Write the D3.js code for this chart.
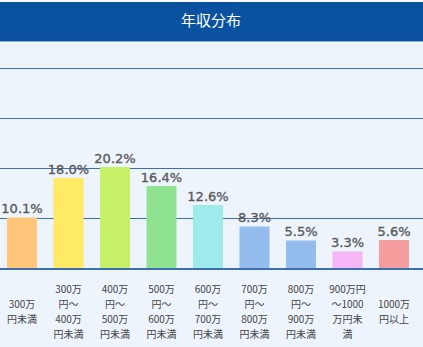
<!DOCTYPE html>
<html>
<head>
<meta charset="utf-8">
<script src="https://cdn.jsdelivr.net/npm/d3@7"></script>
<style>
  html, body { margin: 0; padding: 0; background: #ffffff; }
  svg { display: block; }
</style>
</head>
<body>
<svg id="chart" width="423" height="347"></svg>
<script>
// 年収分布 — share of respondents by annual income band (%)
const title = "年収分布";
const categories = [
  "300万円未満",
  "300万円～400万円未満",
  "400万円～500万円未満",
  "500万円～600万円未満",
  "600万円～700万円未満",
  "700万円～800万円未満",
  "800万円～900万円未満",
  "900万円～1000万円未満",
  "1000万円以上"
];
const tickLines = [
  ["300万", "円未満"],
  ["300万", "円～", "400万", "円未満"],
  ["400万", "円～", "500万", "円未満"],
  ["500万", "円～", "600万", "円未満"],
  ["600万", "円～", "700万", "円未満"],
  ["700万", "円～", "800万", "円未満"],
  ["800万", "円～", "900万", "円未満"],
  ["900万円", "～1000", "万円未", "満"],
  ["1000万", "円以上"]
];
const values = [10.1, 18.0, 20.2, 16.4, 12.6, 8.3, 5.5, 3.3, 5.6];
const colors = ["#FFC67A", "#FFEA66", "#C6F068", "#8FE390", "#9FEBEB", "#94BCEC", "#94BCEC", "#F6B6F6", "#F69D9D"];
const gridTicks = [10, 20, 30, 40];

const W = 423, H = 347;
const svg = d3.select("#chart");

// page background and header band
svg.append("rect").attr("x", 0).attr("y", 0).attr("width", W).attr("height", H).attr("fill", "#EDF4FC");
svg.append("rect").attr("x", 0).attr("y", 0).attr("width", W).attr("height", 2).attr("fill", "#ffffff");
svg.append("rect").attr("x", 0).attr("y", 2).attr("width", W).attr("height", 39.7).attr("fill", "#0A52A0");
svg.append("rect").attr("x", 0).attr("y", 41.7).attr("width", W).attr("height", 1).attr("fill", "#ffffff");
svg.append("text")
  .attr("x", 211).attr("y", 26)
  .attr("text-anchor", "middle")
  .attr("fill", "#ffffff")
  .attr("font-family", "'Noto Sans CJK JP', sans-serif")
  .attr("font-size", 15)
  .text(title);

// scales
const inner = 16.5 / 46.5;
const x = d3.scaleBand().domain(categories).range([-1.25, 417.25]).paddingInner(inner).paddingOuter(inner / 2);
const y = d3.scaleLinear().domain([0, 40]).range([268, 68]);

// horizontal grid lines
const grid = svg.append("g")
  .attr("transform", "translate(0,0.5)")
  .call(d3.axisLeft(y).tickValues(gridTicks).tickSize(-W).tickFormat("").offset(0));
grid.select(".domain").remove();
grid.selectAll(".tick line").attr("stroke", "#3A6FB6").attr("stroke-width", 1);

// bars
svg.append("g").selectAll("rect")
  .data(values)
  .join("rect")
  .attr("x", (d, i) => x(categories[i]))
  .attr("width", x.bandwidth())
  .attr("y", d => y(d))
  .attr("height", d => y(0) - y(d))
  .attr("fill", (d, i) => colors[i]);

// baseline
svg.append("line")
  .attr("x1", 0).attr("x2", W)
  .attr("y1", y(0) + 1).attr("y2", y(0) + 1)
  .attr("stroke", "#3A6FB6").attr("stroke-width", 2);

// value labels
svg.append("g").selectAll("text")
  .data(values)
  .join("text")
  .attr("x", (d, i) => x(categories[i]) + x.bandwidth() / 2)
  .attr("y", d => y(d) - 4.5)
  .attr("text-anchor", "middle")
  .attr("fill", "#5A5A5A")
  .attr("stroke", "#5A5A5A")
  .attr("stroke-width", 0.35)
  .attr("font-family", "'DejaVu Sans', sans-serif")
  .attr("font-size", 13)
  .text(d => d.toFixed(1) + "%");

// category labels, vertically centred in the band below the axis
const lineH = 15;
const labelMid = 311.5;
const lab = svg.append("g").selectAll("text")
  .data(tickLines)
  .join("text")
  .attr("text-anchor", "middle")
  .attr("fill", "#444444")
  .attr("font-family", "'Noto Sans CJK JP', sans-serif")
  .attr("font-size", 10);
lab.each(function (lines, i) {
  const cx = x(categories[i]) + x.bandwidth() / 2;
  const top = labelMid - (lines.length - 1) * lineH / 2;
  d3.select(this).selectAll("tspan")
    .data(lines)
    .join("tspan")
    .attr("x", cx)
    .attr("y", (t, j) => top + j * lineH + 3.5)
    .text(t => t);
});
</script>
</body>
</html>
